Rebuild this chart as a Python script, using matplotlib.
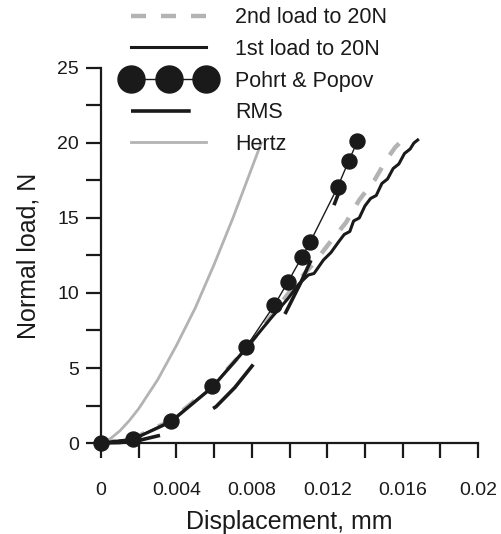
import numpy as np
import matplotlib.pyplot as plt
from matplotlib.ticker import MultipleLocator

plt.rcParams['font.family'] = ['Liberation Sans', 'DejaVu Sans']
plt.rcParams['lines.scale_dashes'] = False

# 2nd load to 20N (gray dashed)
load2_x = [0, 0.0017, 0.0037, 0.0059, 0.0077, 0.0090, 0.0099, 0.0106, 0.0113,
           0.0121, 0.0130, 0.0137, 0.0145, 0.0151, 0.0156, 0.0160]
load2_y = [0, 0.3, 1.5, 3.8, 6.3, 8.4, 9.9, 11.0, 12.0,
           13.3, 14.7, 16.2, 17.5, 18.8, 19.7, 20.2]

# 1st load to 20N (black, jagged)
load1_x = [0, 0.0017, 0.0037, 0.0059, 0.0077, 0.0090, 0.0099, 0.0105, 0.0110,
           0.0113, 0.0118, 0.0122, 0.0126, 0.0129, 0.0132, 0.0134, 0.0137,
           0.0140, 0.0143, 0.0146, 0.0149, 0.0152, 0.0155, 0.0158, 0.0161,
           0.0164, 0.0166, 0.0168]
load1_y = [0, 0.25, 1.4, 3.7, 6.3, 8.3, 9.6, 10.6, 11.2,
           11.3, 12.2, 12.7, 13.4, 13.9, 14.1, 14.8, 15.0,
           15.8, 16.3, 16.5, 17.3, 17.6, 18.3, 18.6, 19.3,
           19.6, 20.0, 20.2]

# Pohrt & Popov
pohrt_x = [0, 0.0017, 0.0037, 0.0059, 0.0077, 0.0092, 0.0099, 0.01066,
           0.0111, 0.01255, 0.01314, 0.0136]
pohrt_y = [0, 0.3, 1.5, 3.8, 6.4, 9.2, 10.7, 12.4, 13.4, 17.05, 18.8, 20.1]

# RMS
rms_x = [0, 0.0010, 0.0020, 0.0032, 0.0045, 0.0061, 0.0071, 0.0081, 0.0090,
         0.0098, 0.0106, 0.0114, 0.0121, 0.0128]
rms_y = [0, 0.03, 0.17, 0.53, 1.2, 2.42, 3.7, 5.27, 6.9,
         8.7, 10.7, 12.9, 15.0, 17.3]

# Hertz
hertz_x = [0, 0.0005, 0.0010, 0.0015, 0.0020, 0.0030, 0.0040, 0.0050,
           0.0060, 0.0070, 0.0085]
hertz_y = [0, 0.29, 0.81, 1.49, 2.29, 4.2, 6.5, 9.0, 11.9, 15.0, 20.0]

fig = plt.figure(figsize=(5.01, 5.34), dpi=100)
ax = fig.add_axes([0.2016, 0.1704, 0.7525, 0.7023])

dark = '#1a1a1a'
gray = '#b3b3b3'

l2, = ax.plot(load2_x, load2_y, color=gray, lw=3.2, ls=(0, (10.8, 10.8)),
              clip_on=False, zorder=2, label='2nd load to 20N')
l1, = ax.plot(load1_x, load1_y, color=dark, lw=2.2, clip_on=False, zorder=3,
              label='1st load to 20N')
pp, = ax.plot(pohrt_x, pohrt_y, color=dark, lw=1.0, marker='o', ms=10.8,
              mfc=dark, mec=dark, clip_on=False, zorder=5, label='Pohrt & Popov')
rms, = ax.plot(rms_x, rms_y, color=dark, lw=2.6, ls=(0, (43, 43)),
               clip_on=False, zorder=4, label='RMS')
hz, = ax.plot(hertz_x, hertz_y, color=gray, lw=2.0, clip_on=False, zorder=2,
              label='Hertz')

ax.set_xlim(0, 0.02)
ax.set_ylim(0, 25)
ax.set_xticks([0, 0.004, 0.008, 0.012, 0.016, 0.02])
ax.set_xticklabels(['0', '0.004', '0.008', '0.012', '0.016', '0.02'])
ax.xaxis.set_minor_locator(MultipleLocator(0.002))
ax.set_yticks([0, 5, 10, 15, 20, 25])
ax.yaxis.set_minor_locator(MultipleLocator(2.5))

for side in ['top', 'right']:
    ax.spines[side].set_visible(False)
for side in ['left', 'bottom']:
    ax.spines[side].set_linewidth(1.6)
    ax.spines[side].set_color(dark)

ax.tick_params(which='both', direction='out', length=10.8, width=1.6,
               color=dark, labelsize=14, labelcolor=dark)
ax.tick_params(axis='x', which='both', pad=17)
ax.tick_params(axis='y', which='both', pad=5)

ax.set_xlabel('Displacement, mm', fontsize=18, color=dark, labelpad=8)
ax.set_ylabel('Normal load, N', fontsize=18, color=dark, labelpad=12)

fig.legend(handles=[l2, l1, pp, rms, hz], loc='upper left',
           bbox_to_anchor=(0.2485, 0.986), frameon=False, fontsize=15.5,
           handlelength=4.09, handletextpad=1.05, labelspacing=0.49,
           numpoints=3, markerscale=1.8, borderpad=0, borderaxespad=0,
           labelcolor=dark)

fig.savefig('out.png', dpi=100)
